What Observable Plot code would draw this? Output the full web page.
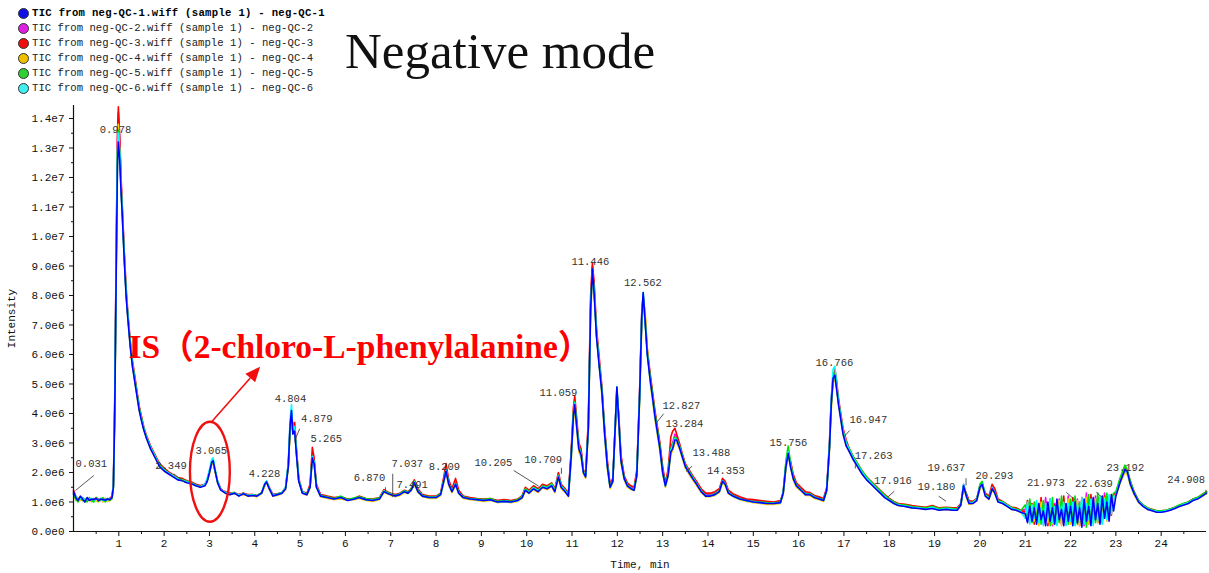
<!DOCTYPE html>
<html><head><meta charset="utf-8">
<script src="https://cdn.jsdelivr.net/npm/d3@7"></script>
<script src="https://cdn.jsdelivr.net/npm/@observablehq/plot@0.6"></script>
<style>
html,body{margin:0;padding:0;background:#fff;}
#wrap{position:relative;width:1209px;height:573px;overflow:hidden;background:#fff;}
#header{position:relative;width:1209px;height:100px;}
.leg{position:absolute;left:32px;height:12px;line-height:12px;font-family:"Liberation Mono","DejaVu Sans Mono",monospace;font-size:10.6px;color:#222;white-space:pre;}
.dot{position:absolute;left:18px;border-radius:50%;border:1px solid #333;box-sizing:border-box;width:11px;height:11px;}
#title{position:absolute;left:345px;top:26px;font-family:"Liberation Serif","Times New Roman",serif;font-size:51px;line-height:51px;color:#111;white-space:nowrap;}
</style></head>
<body><div id="wrap"><div id="header"></div><div id="chart"></div></div>
<script>
// ---------- data (intensities in units of 1e6) ----------
const sampleNames = ["neg-QC-1","neg-QC-2","neg-QC-3","neg-QC-4","neg-QC-5","neg-QC-6"];
const legendLabels = [
  "TIC from neg-QC-1.wiff (sample 1) - neg-QC-1",
  "TIC from neg-QC-2.wiff (sample 1) - neg-QC-2",
  "TIC from neg-QC-3.wiff (sample 1) - neg-QC-3",
  "TIC from neg-QC-4.wiff (sample 1) - neg-QC-4",
  "TIC from neg-QC-5.wiff (sample 1) - neg-QC-5",
  "TIC from neg-QC-6.wiff (sample 1) - neg-QC-6"];
const lineColors = ["#0000ff","#ff00ff","#ff0000","#ffc800","#00e000","#00ffff"];
const legendColors = ["#1010e8","#e020e0","#ee1010","#f0c000","#30d030","#40f0f0"];
const titleText = "Negative mode";
const xLabel = "Time, min";
const yLabel = "Intensity";

const times = [0,0.05,0.1,0.15,0.2,0.25,0.3,0.35,0.4,0.45,0.5,0.55,0.6,0.65,0.7,0.75,0.8,0.85,
0.88,0.91,0.94,0.97,0.99,1.02,1.05,1.08,1.12,1.16,1.2,1.25,1.3,1.35,1.4,1.45,1.5,1.55,1.6,1.65,1.7,
1.8,1.9,2.0,2.1,2.2,2.3,2.4,2.5,2.6,2.7,2.8,2.9,
2.95,3.0,3.05,3.08,3.12,3.18,3.25,3.35,3.45,3.55,3.65,3.75,3.85,3.95,4.05,4.15,4.22,4.26,4.32,4.4,4.5,4.6,4.68,4.74,4.78,4.81,4.84,4.88,4.92,4.97,5.05,5.15,5.22,5.27,5.31,5.36,5.45,
5.6,5.75,5.9,6.05,6.2,6.3,6.45,6.6,6.75,6.85,6.92,7.0,7.1,7.2,7.3,7.38,7.45,7.52,7.6,7.7,7.85,8.0,8.1,8.17,8.22,8.28,8.35,8.43,8.5,8.6,8.75,8.9,9.05,9.2,9.35,9.5,9.65,9.8,9.9,9.97,
10.05,10.15,10.25,10.35,10.45,10.55,10.62,10.7,10.76,10.85,10.92,10.98,11.03,11.06,11.1,11.15,11.2,11.25,11.3,11.36,11.41,11.45,11.49,11.54,11.6,11.66,11.72,11.78,11.84,11.9,11.96,11.99,12.03,12.08,12.15,12.22,12.3,12.37,12.43,12.49,12.54,12.57,12.61,12.66,12.72,12.78,12.83,12.88,12.94,13.0,13.06,13.12,13.18,13.22,13.27,13.31,13.37,13.44,13.5,13.58,13.66,13.75,13.85,13.95,
14.05,14.15,14.25,14.32,14.38,14.45,14.55,14.7,14.85,15.0,15.15,15.3,15.45,15.6,15.66,15.72,15.77,15.82,15.88,15.95,16.05,16.15,16.25,16.35,16.45,16.55,16.62,16.68,16.72,16.76,16.8,16.84,16.88,16.93,16.98,17.05,17.12,17.2,17.3,17.4,17.5,17.6,17.7,17.8,17.9,18.0,18.1,18.2,18.35,18.5,18.65,18.8,18.95,19.1,19.25,19.4,19.5,19.58,19.64,19.7,19.76,19.85,19.93,20.0,20.05,20.12,20.2,20.27,20.33,20.4,20.5,20.6,20.7,20.8,20.9,
21,21.05,21.1,21.15,21.2,21.25,21.3,21.35,21.4,21.45,21.5,21.55,21.6,21.65,21.7,21.75,21.8,21.85,21.9,21.95,22,22.05,22.1,22.15,22.2,22.25,22.3,22.35,22.4,22.45,22.5,22.55,22.6,22.65,22.7,22.75,22.8,22.85,22.9,22.95,
23.0,23.1,23.2,23.25,23.32,23.4,23.5,23.6,23.7,23.8,23.9,24.0,24.1,24.2,24.3,24.4,24.5,24.6,24.7,24.8,24.9,25.0];

const qc1 = [1.35,1.15,1.05,1.2,1.1,1.0,1.15,1.05,1.1,1.08,1.12,1.05,1.1,1.08,1.06,1.1,1.08,1.15,
1.5,4.0,8.5,12.4,13.2,12.6,11.5,10.6,9.2,8.0,7.2,6.3,5.6,5.1,4.6,4.1,3.75,3.45,3.2,3.0,2.8,
2.5,2.2,2.05,1.95,1.85,1.75,1.72,1.65,1.62,1.55,1.5,1.55,
1.7,2.0,2.35,2.4,2.1,1.65,1.4,1.3,1.25,1.3,1.2,1.28,1.2,1.22,1.2,1.3,1.6,1.68,1.45,1.2,1.25,1.3,1.45,2.2,3.6,4.1,3.3,3.4,2.6,1.7,1.3,1.25,1.5,2.5,2.3,1.5,1.2,
1.15,1.1,1.15,1.05,1.1,1.15,1.08,1.05,1.1,1.35,1.3,1.25,1.2,1.25,1.35,1.3,1.4,1.65,1.35,1.2,1.15,1.15,1.25,1.7,2.05,1.6,1.35,1.6,1.3,1.15,1.1,1.08,1.05,1.08,1.0,1.02,1.0,1.05,1.15,1.4,
1.3,1.45,1.35,1.5,1.45,1.55,1.35,1.85,1.5,1.35,1.2,2.5,3.9,4.3,3.6,2.8,2.6,2.0,1.85,3.5,7.5,8.9,8.0,6.6,5.6,4.7,3.3,2.2,1.5,1.7,3.8,4.9,3.8,2.4,1.8,1.55,1.45,1.4,1.9,4.5,7.3,8.1,7.2,6.0,5.2,4.5,3.9,3.4,2.8,2.0,1.55,1.9,2.7,2.8,3.1,3.1,2.85,2.5,2.2,2.0,1.8,1.6,1.35,1.2,
1.2,1.25,1.35,1.7,1.6,1.3,1.2,1.1,1.05,1.0,0.98,0.95,0.95,0.98,1.3,2.2,2.65,2.2,1.8,1.55,1.4,1.25,1.25,1.15,1.1,1.05,1.4,2.8,4.3,5.2,5.3,4.8,4.3,3.8,3.3,2.9,2.7,2.45,2.2,1.95,1.75,1.6,1.45,1.3,1.15,1.05,0.95,0.88,0.85,0.8,0.78,0.75,0.78,0.72,0.75,0.72,0.72,0.9,1.55,1.2,0.95,0.95,1.05,1.5,1.6,1.2,1.1,1.45,1.3,1.0,0.95,0.85,0.75,0.72,0.65,
0.6,0.3,0.85,0.35,0.8,0.25,0.95,0.4,0.7,0.2,1.0,0.35,0.8,0.25,1.1,0.4,0.75,0.2,0.95,0.35,0.85,0.2,1.0,0.3,0.8,0.15,1.1,0.35,0.85,0.2,1.15,0.4,0.95,0.25,1.2,0.45,1.0,0.35,1.25,0.7,
1.2,1.7,2.1,2.05,1.6,1.3,1.0,0.85,0.75,0.7,0.65,0.65,0.68,0.72,0.78,0.85,0.9,0.95,1.05,1.1,1.2,1.3];

const qc2 = [1.3,1.1,1.1,1.15,1.05,1.08,1.1,1.1,1.05,1.12,1.08,1.1,1.05,1.12,1.1,1.05,1.1,1.2,
1.6,4.5,9.2,13.2,14.2,13.2,11.8,10.8,9.4,8.1,7.3,6.4,5.7,5.2,4.7,4.2,3.85,3.5,3.25,3.05,2.85,
2.55,2.25,2.1,2.0,1.9,1.8,1.75,1.7,1.65,1.6,1.55,1.6,
1.75,2.05,2.3,2.35,2.05,1.7,1.45,1.32,1.3,1.28,1.25,1.3,1.22,1.25,1.2,1.32,1.55,1.65,1.5,1.25,1.28,1.32,1.5,2.3,3.7,4.0,3.4,3.5,2.7,1.75,1.35,1.28,1.55,2.6,2.35,1.55,1.25,
1.18,1.12,1.12,1.08,1.12,1.18,1.1,1.08,1.12,1.4,1.32,1.28,1.22,1.28,1.38,1.32,1.42,1.7,1.4,1.22,1.18,1.18,1.28,1.75,2.1,1.65,1.4,1.65,1.35,1.18,1.12,1.1,1.08,1.1,1.05,1.05,1.02,1.08,1.2,1.45,
1.35,1.5,1.4,1.55,1.5,1.6,1.4,1.9,1.55,1.4,1.25,2.6,4.0,4.4,3.7,2.9,2.7,2.05,1.9,3.6,7.7,9.0,8.2,6.7,5.7,4.8,3.4,2.3,1.55,1.75,3.9,4.8,3.9,2.5,1.85,1.6,1.5,1.45,2.0,4.7,7.5,7.9,7.3,6.1,5.3,4.6,4.0,3.5,2.9,2.1,1.6,2.0,2.9,3.0,3.3,3.2,2.9,2.55,2.25,2.05,1.85,1.65,1.4,1.25,
1.25,1.3,1.4,1.75,1.65,1.35,1.25,1.15,1.08,1.05,1.02,1.0,0.98,1.02,1.35,2.3,2.7,2.3,1.85,1.6,1.45,1.3,1.3,1.2,1.15,1.1,1.5,3.0,4.5,5.3,5.4,4.9,4.4,3.9,3.4,3.0,2.75,2.5,2.25,2.0,1.8,1.65,1.5,1.35,1.2,1.1,1.0,0.92,0.9,0.85,0.82,0.8,0.85,0.78,0.8,0.78,0.78,0.95,1.6,1.25,1.0,1.0,1.1,1.55,1.65,1.25,1.15,1.5,1.35,1.05,1.0,0.9,0.8,0.78,0.7,
0.75,0.35,1.05,0.4,0.5,1.0,0.3,0.8,0.25,1.15,0.4,0.7,0.2,0.95,0.45,1.1,0.25,0.8,0.35,1.2,0.3,0.95,0.25,1.1,0.4,0.75,0.2,1.3,0.35,0.9,0.3,1.2,0.45,1.0,0.3,1.3,0.5,1.05,0.7,1.15,
1.25,1.75,2.05,2.0,1.65,1.35,1.05,0.9,0.78,0.72,0.68,0.68,0.7,0.75,0.8,0.88,0.92,0.98,1.08,1.12,1.22,1.32];

const qc3 = [1.4,1.2,1.1,1.1,1.15,1.05,1.1,1.12,1.08,1.05,1.15,1.1,1.08,1.05,1.12,1.08,1.12,1.18,
1.55,4.2,9.0,13.5,14.4,13.4,12.0,10.9,9.5,8.3,7.4,6.5,5.8,5.3,4.75,4.25,3.9,3.55,3.3,3.1,2.9,
2.6,2.3,2.15,2.02,1.92,1.82,1.8,1.72,1.68,1.6,1.55,1.6,
1.72,2.0,2.3,2.38,2.1,1.7,1.42,1.35,1.3,1.32,1.25,1.3,1.25,1.25,1.22,1.3,1.58,1.7,1.48,1.25,1.28,1.3,1.48,2.25,3.5,3.9,3.6,3.7,2.8,1.8,1.35,1.3,1.6,2.85,2.5,1.6,1.25,
1.2,1.15,1.18,1.1,1.12,1.2,1.12,1.1,1.15,1.42,1.35,1.3,1.25,1.3,1.4,1.35,1.45,1.75,1.45,1.25,1.2,1.2,1.3,1.85,2.3,1.75,1.45,1.8,1.4,1.2,1.15,1.12,1.1,1.12,1.05,1.08,1.05,1.1,1.22,1.5,
1.4,1.55,1.45,1.6,1.55,1.65,1.45,2.0,1.6,1.45,1.3,2.7,4.2,4.6,3.9,3.0,2.8,2.1,1.95,3.8,8.0,9.1,8.4,6.9,5.9,4.9,3.5,2.4,1.6,1.8,3.7,4.7,4.0,2.6,1.9,1.65,1.55,1.5,2.1,4.6,7.4,8.0,7.4,6.2,5.4,4.7,4.1,3.6,3.0,2.2,1.65,2.1,3.2,3.4,3.5,3.3,3.0,2.6,2.3,2.1,1.9,1.7,1.45,1.3,
1.3,1.35,1.45,1.8,1.7,1.4,1.28,1.18,1.1,1.08,1.05,1.02,1.0,1.05,1.3,2.2,2.6,2.4,1.95,1.65,1.5,1.35,1.32,1.22,1.18,1.12,1.45,2.9,4.4,5.2,5.5,5.1,4.5,4.0,3.5,3.1,2.8,2.55,2.3,2.05,1.85,1.7,1.55,1.4,1.25,1.12,1.02,0.95,0.92,0.88,0.85,0.82,0.88,0.8,0.82,0.8,0.8,0.95,1.5,1.3,1.05,1.02,1.12,1.45,1.55,1.3,1.2,1.6,1.45,1.1,1.02,0.92,0.82,0.8,0.72,
0.65,1.05,0.35,0.95,0.25,0.9,0.4,1.15,0.3,0.8,0.2,1.1,0.35,0.9,0.25,1.0,0.4,1.2,0.25,0.8,0.4,1.15,0.3,0.85,0.2,1.15,0.35,0.95,0.25,1.25,0.4,0.9,0.3,1.15,0.35,1.2,0.45,0.95,0.55,1.25,
1.3,1.8,2.15,2.05,1.7,1.35,1.05,0.9,0.8,0.75,0.7,0.7,0.72,0.76,0.82,0.88,0.95,1.0,1.1,1.15,1.25,1.35];

const qc4 = [1.3,1.05,1.15,1.05,1.12,1.0,1.05,1.1,1.0,1.1,1.05,1.0,1.12,1.0,1.1,1.02,1.05,1.1,
1.45,3.8,8.2,12.6,13.8,12.8,11.6,10.7,9.3,8.1,7.2,6.3,5.6,5.1,4.6,4.1,3.8,3.45,3.2,3.0,2.8,
2.5,2.2,2.05,1.95,1.85,1.78,1.72,1.68,1.62,1.55,1.5,1.58,
1.7,1.95,2.3,2.35,2.05,1.65,1.4,1.3,1.25,1.28,1.22,1.25,1.2,1.2,1.18,1.28,1.55,1.65,1.42,1.2,1.22,1.28,1.42,2.15,3.4,3.9,3.35,3.45,2.6,1.72,1.3,1.22,1.48,2.45,2.3,1.5,1.18,
1.12,1.08,1.1,1.05,1.08,1.12,1.05,1.02,1.08,1.32,1.28,1.22,1.18,1.22,1.32,1.28,1.38,1.6,1.32,1.18,1.12,1.12,1.22,1.65,2.0,1.55,1.32,1.55,1.28,1.12,1.08,1.05,1.02,1.05,0.98,1.0,0.98,1.02,1.12,1.38,
1.28,1.42,1.32,1.48,1.42,1.52,1.32,1.8,1.45,1.32,1.18,2.3,3.7,4.2,3.5,2.7,2.5,1.95,1.8,3.3,7.2,8.7,8.1,6.6,5.6,4.6,3.2,2.1,1.45,1.65,3.6,4.7,3.7,2.3,1.75,1.5,1.42,1.38,1.85,4.3,7.0,7.6,7.6,6.2,5.1,4.4,3.8,3.3,2.7,1.95,1.5,1.85,2.6,2.75,3.0,3.0,2.8,2.45,2.15,1.95,1.75,1.55,1.32,1.18,
1.18,1.22,1.32,1.65,1.55,1.28,1.18,1.08,1.02,0.98,0.95,0.92,0.92,0.95,1.25,2.1,2.6,2.2,1.75,1.5,1.38,1.22,1.22,1.12,1.08,1.02,1.35,2.7,4.1,5.0,5.2,4.8,4.3,3.8,3.3,2.9,2.7,2.45,2.2,1.95,1.75,1.6,1.45,1.3,1.15,1.05,0.95,0.88,0.85,0.8,0.78,0.75,0.8,0.72,0.75,0.72,0.72,0.88,1.5,1.15,0.92,0.95,1.05,1.45,1.55,1.2,1.08,1.4,1.28,1.0,0.95,0.85,0.75,0.72,0.65,
0.5,0.95,0.3,0.9,0.35,0.8,0.2,1.0,0.4,0.85,0.3,0.95,0.25,0.8,0.35,1.05,0.2,0.9,0.4,1.1,0.25,0.85,0.35,1.05,0.2,0.9,0.3,1.15,0.25,0.85,0.4,1.1,0.3,0.95,0.4,1.15,0.35,1.0,0.65,1.2,
1.2,1.65,2.0,1.95,1.55,1.25,0.98,0.85,0.75,0.7,0.66,0.66,0.68,0.72,0.78,0.85,0.9,0.95,1.05,1.1,1.18,1.28];

const qc5 = [1.25,1.1,1.0,1.15,1.05,1.1,1.0,1.15,1.05,1.0,1.15,1.02,1.08,1.15,1.0,1.12,1.05,1.12,
1.5,4.1,8.6,12.8,13.6,12.7,11.6,10.6,9.3,8.1,7.3,6.4,5.7,5.2,4.7,4.2,3.85,3.5,3.25,3.05,2.85,
2.55,2.25,2.1,1.98,1.88,1.8,1.75,1.7,1.64,1.58,1.52,1.58,
1.72,2.02,2.32,2.4,2.08,1.68,1.42,1.32,1.28,1.32,1.22,1.3,1.22,1.24,1.22,1.32,1.62,1.7,1.45,1.22,1.28,1.32,1.48,2.25,3.55,4.0,3.35,3.45,2.65,1.75,1.32,1.28,1.52,2.55,2.35,1.52,1.22,
1.18,1.12,1.2,1.08,1.14,1.18,1.12,1.08,1.14,1.38,1.32,1.28,1.22,1.28,1.38,1.32,1.45,1.7,1.4,1.22,1.18,1.18,1.28,1.72,2.1,1.62,1.38,1.62,1.32,1.18,1.12,1.1,1.08,1.12,1.02,1.05,1.02,1.08,1.2,1.45,
1.35,1.5,1.4,1.55,1.5,1.62,1.42,1.9,1.55,1.4,1.25,2.55,4.0,4.4,3.7,2.9,2.65,2.05,1.9,3.55,7.6,8.9,8.1,6.7,5.7,4.8,3.4,2.25,1.5,1.72,3.8,4.9,3.85,2.45,1.82,1.58,1.48,1.42,1.95,4.5,7.3,8.0,7.2,6.1,5.3,4.6,4.0,3.5,2.9,2.05,1.58,1.95,2.8,2.95,3.2,3.15,2.9,2.55,2.25,2.05,1.85,1.62,1.38,1.22,
1.22,1.28,1.38,1.72,1.62,1.32,1.22,1.12,1.05,1.02,1.0,0.98,0.97,1.0,1.35,2.4,2.9,2.35,1.85,1.58,1.42,1.28,1.28,1.18,1.12,1.08,1.42,2.85,4.3,5.1,5.35,4.9,4.4,3.9,3.4,3.0,2.8,2.55,2.3,2.05,1.85,1.68,1.52,1.38,1.22,1.1,1.0,0.92,0.9,0.85,0.82,0.8,0.85,0.78,0.8,0.78,0.76,0.92,1.55,1.25,0.98,1.0,1.1,1.6,1.7,1.25,1.15,1.45,1.32,1.05,1.0,0.9,0.8,0.76,0.7,
0.9,0.4,1.1,0.3,1.0,0.45,0.85,0.25,1.05,0.4,0.9,0.2,1.15,0.35,0.95,0.3,1.2,0.4,0.85,0.25,1.1,0.35,1.2,0.25,1.0,0.4,0.85,0.15,1.25,0.4,0.95,0.3,1.3,0.35,1.1,0.45,1.3,0.5,1.1,1.3,
1.35,1.85,2.25,2.1,1.7,1.35,1.05,0.9,0.8,0.74,0.7,0.7,0.72,0.76,0.82,0.9,0.95,1.0,1.1,1.15,1.25,1.35];

const qc6 = [1.3,1.2,1.08,1.12,1.15,1.05,1.12,1.08,1.12,1.05,1.1,1.08,1.12,1.05,1.1,1.08,1.1,1.15,
1.55,4.3,8.8,12.9,13.5,12.9,11.7,10.7,9.3,8.1,7.3,6.4,5.7,5.15,4.65,4.15,3.8,3.5,3.25,3.05,2.85,
2.55,2.22,2.08,1.98,1.88,1.78,1.74,1.68,1.64,1.56,1.52,1.6,
1.8,2.1,2.45,2.5,2.15,1.7,1.42,1.32,1.28,1.3,1.24,1.28,1.22,1.24,1.2,1.3,1.62,1.72,1.48,1.22,1.26,1.3,1.5,2.35,3.8,4.3,3.5,3.55,2.7,1.75,1.32,1.26,1.5,2.55,2.35,1.52,1.2,
1.15,1.1,1.15,1.06,1.1,1.15,1.08,1.06,1.1,1.38,1.3,1.26,1.2,1.26,1.36,1.3,1.4,1.68,1.36,1.2,1.15,1.15,1.26,1.72,2.1,1.62,1.36,1.62,1.3,1.15,1.1,1.08,1.05,1.08,1.0,1.02,1.0,1.05,1.16,1.42,
1.32,1.48,1.38,1.52,1.48,1.58,1.38,1.88,1.52,1.38,1.22,2.45,3.95,4.35,3.65,2.85,2.62,2.02,1.88,3.5,7.6,8.8,8.1,6.7,5.7,4.75,3.35,2.2,1.5,1.7,3.85,4.9,3.85,2.42,1.8,1.55,1.46,1.4,1.92,4.55,7.4,8.1,7.2,6.0,5.2,4.5,3.9,3.4,2.8,2.0,1.55,1.92,2.75,2.9,3.15,3.1,2.88,2.52,2.22,2.02,1.82,1.62,1.36,1.2,
1.2,1.25,1.35,1.72,1.62,1.32,1.2,1.1,1.04,1.0,0.98,0.96,0.95,0.98,1.3,2.25,2.7,2.25,1.8,1.55,1.4,1.26,1.26,1.16,1.1,1.05,1.4,2.9,4.5,5.5,5.6,5.0,4.4,3.9,3.4,3.0,2.75,2.5,2.25,2.0,1.8,1.64,1.48,1.32,1.18,1.06,0.96,0.9,0.86,0.82,0.8,0.76,0.82,0.74,0.78,0.75,0.74,0.9,1.6,1.2,0.96,0.98,1.08,1.52,1.62,1.22,1.12,1.48,1.3,1.02,0.98,0.88,0.78,0.74,0.68,
0.45,1.0,0.25,0.9,0.45,1.05,0.3,0.8,0.2,0.95,0.45,1.1,0.3,0.85,0.2,0.9,0.45,1.0,0.2,0.95,0.35,1.0,0.2,0.9,0.45,1.15,0.25,0.95,0.4,1.1,0.2,1.0,0.35,1.2,0.25,1.1,0.4,1.25,0.6,1.1,
1.25,1.72,2.1,2.02,1.62,1.3,1.02,0.88,0.77,0.72,0.68,0.67,0.7,0.74,0.8,0.86,0.92,0.97,1.07,1.12,1.2,1.3];

// peak annotations: label, and where the label sits (time, intensity 1e6)
const peakLabels = ["0.031","0.978","2.349","3.065","4.228","4.804","4.879","5.265","6.870","7.037","7.491","8.209","10.205","10.709","11.059","11.446","12.562","12.827","13.284","13.488","14.353","15.756","16.766","16.947","17.263","17.916","19.180","19.637","20.293","21.973","22.639","23.192","24.908"];
const peakLabelT = [0.393,0.927,2.151,3.040,4.214,4.787,5.367,5.577,6.530,7.364,7.472,8.184,9.265,10.364,10.699,11.405,12.564,13.413,13.479,14.075,14.394,15.773,16.788,17.538,17.655,18.079,19.038,19.259,20.318,21.454,22.517,23.208,24.553];
const peakLabelV = [2.295,13.617,2.237,2.746,1.956,4.519,3.841,3.142,1.841,2.295,1.583,2.214,2.349,2.441,4.722,9.163,8.451,4.271,3.671,2.688,2.068,3.027,5.739,3.786,2.576,1.729,1.525,2.180,1.898,1.671,1.617,2.180,1.763];
// leader lines: [t1, v1, t2, v2]
const leaders = [[0.448,1.898,0.044,1.390],[2.213,1.956,2.449,1.671],[4.992,3.481,4.897,3.142],[6.883,1.502,6.883,1.332],[7.044,1.956,7.044,1.163],[9.713,2.068,10.265,1.536],[10.766,2.159,10.766,1.956],[13.022,3.990,12.861,3.685],[13.649,2.214,13.517,2.034],[17.126,3.424,16.993,3.197],[17.251,2.271,17.251,2.136],[18.112,1.366,17.964,1.163],[19.089,1.197,19.252,1.027],[19.694,1.807,19.694,1.559],[21.906,1.332,22.083,1.085],[22.568,1.332,22.716,1.129],[24.988,1.414,24.988,1.254]];
// internal-standard callout
const isNote = {label: "IS（2-chloro-L-phenylalanine）", t: 1.213, v: 6.26};
const isEllipse = {t1: 2.58, t2: 3.46, v1: 0.315, v2: 3.705};
const isArrow = {t1: 3.06, v1: 3.70, t2: 4.13, v2: 5.57};

const xTicks = [1,2,3,4,5,6,7,8,9,10,11,12,13,14,15,16,17,18,19,20,21,22,23,24];
const xMinorTicks = [0.5,1.5,2.5,3.5,4.5,5.5,6.5,7.5,8.5,9.5,10.5,11.5,12.5,13.5,14.5,15.5,16.5,17.5,18.5,19.5,20.5,21.5,22.5,23.5,24.5];
const yTicks = [0,1e6,2e6,3e6,4e6,5e6,6e6,7e6,8e6,9e6,1e7,1.1e7,1.2e7,1.3e7,1.4e7];
const yMinorTicks = [0.5e6,1.5e6,2.5e6,3.5e6,4.5e6,5.5e6,6.5e6,7.5e6,8.5e6,9.5e6,10.5e6,11.5e6,12.5e6,13.5e6];
const yMax = 14.44e6;

// ---------- header: legend + title ----------
const header = document.getElementById("header");
legendLabels.forEach((lab, i) => {
  const cy = 13.3 + 15 * i;
  const d = document.createElement("div");
  d.className = "dot";
  d.style.top = (cy - 5.5) + "px";
  d.style.background = legendColors[i];
  header.appendChild(d);
  const t = document.createElement("div");
  t.className = "leg";
  t.style.top = (cy - 6) + "px";
  t.textContent = lab;
  if (i === 0) { t.style.fontWeight = "bold"; t.style.letterSpacing = "0.3px"; t.style.color = "#000"; }
  else { t.style.letterSpacing = "0.03px"; }
  header.appendChild(t);
});
const title = document.createElement("div");
title.id = "title";
title.textContent = titleText;
header.appendChild(title);

const series = [qc1, qc2, qc3, qc4, qc5, qc6];
series.forEach((s, i) => { if (s.length !== times.length) console.warn("length mismatch", i, s.length, times.length); });

const drawOrder = [1, 2, 3, 4, 5, 0];
const rows = [];
for (const i of drawOrder) {
  const s = series[i];
  for (let k = 0; k < Math.min(s.length, times.length); k++) rows.push({t: times[k], v: s[k] * 1e6, sample: sampleNames[i]});
}
const labelRows = peakLabels.map((l, i) => ({label: l, t: peakLabelT[i], v: peakLabelV[i] * 1e6}));
const leaderRows = leaders.map(([t1, v1, t2, v2]) => ({t1, t2, v1: v1 * 1e6, v2: v2 * 1e6}));
const fmt = d => d3.format(".1e")(d).replace("+", "");

function isCallout(...args) {
  const sc = args.find(a => a && typeof a.x === "function" && typeof a.y === "function");
  const x = sc.x, y = sc.y;
  const g = d3.create("svg:g");
  const ex1 = x(isEllipse.t1), ex2 = x(isEllipse.t2), ey1 = y(isEllipse.v1 * 1e6), ey2 = y(isEllipse.v2 * 1e6);
  g.append("ellipse").attr("cx", (ex1 + ex2) / 2).attr("cy", (ey1 + ey2) / 2)
    .attr("rx", Math.abs(ex2 - ex1) / 2).attr("ry", Math.abs(ey2 - ey1) / 2)
    .attr("fill", "none").attr("stroke", "#f01010").attr("stroke-width", 2.4);
  const x1 = x(isArrow.t1), y1 = y(isArrow.v1 * 1e6), x2 = x(isArrow.t2), y2 = y(isArrow.v2 * 1e6);
  const a = Math.atan2(y2 - y1, x2 - x1), L = 15, W = 6.5;
  const bx = x2 - L * Math.cos(a), by = y2 - L * Math.sin(a);
  g.append("line").attr("x1", x1).attr("y1", y1).attr("x2", bx).attr("y2", by)
    .attr("stroke", "#f01010").attr("stroke-width", 1.6);
  const pts = [[x2, y2], [bx - W * Math.sin(a), by + W * Math.cos(a)], [bx + W * Math.sin(a), by - W * Math.cos(a)]];
  g.append("polygon").attr("points", pts.map(p => p.join(",")).join(" ")).attr("fill", "#f01010");
  return g.node();
}

const chart = Plot.plot({
  width: 1209, height: 473,
  marginTop: 5, marginBottom: 42, marginLeft: 73, marginRight: 3,
  x: {domain: [0, 25]},
  y: {domain: [0, yMax]},
  color: {domain: sampleNames, range: lineColors},
  style: {fontFamily: "'Liberation Mono', 'DejaVu Sans Mono', monospace", fontSize: "11px", color: "#111", background: "#fff"},
  marks: [
    Plot.axisY(yTicks, {tickSize: 4, tickPadding: 5, tickFormat: fmt, label: yLabel, labelAnchor: "center", labelArrow: "none", labelOffset: 66}),
    Plot.axisY(yMinorTicks, {tickSize: 2, text: null, label: null}),
    Plot.axisX(xTicks, {tickSize: 5, tickPadding: 3, label: xLabel, labelAnchor: "center", labelArrow: "none", labelOffset: 36}),
    Plot.axisX(xMinorTicks, {tickSize: 3, text: null, label: null}),
    Plot.line(rows, {x: "t", y: "v", z: "sample", stroke: "sample", strokeWidth: 1.6, curve: "linear"}),
    Plot.ruleX([0], {stroke: "#111", strokeWidth: 1.2}),
    Plot.ruleY([0], {stroke: "#111", strokeWidth: 1.2}),
    Plot.link(leaderRows, {x1: "t1", y1: "v1", x2: "t2", y2: "v2", stroke: "#444", strokeWidth: 0.9}),
    Plot.text(labelRows, {x: "t", y: "v", text: "label", fill: "#333", fontSize: 10.5}),
    Plot.text([isNote], {x: "t", y: d => d.v * 1e6, text: "label", textAnchor: "start", fill: "#ff0000", fontSize: 33.5, fontWeight: "bold", fontFamily: "'Liberation Serif', 'Noto Sans CJK SC', serif"}),
    isCallout
  ]
});
document.getElementById("chart").appendChild(chart);
</script>
</body></html>
